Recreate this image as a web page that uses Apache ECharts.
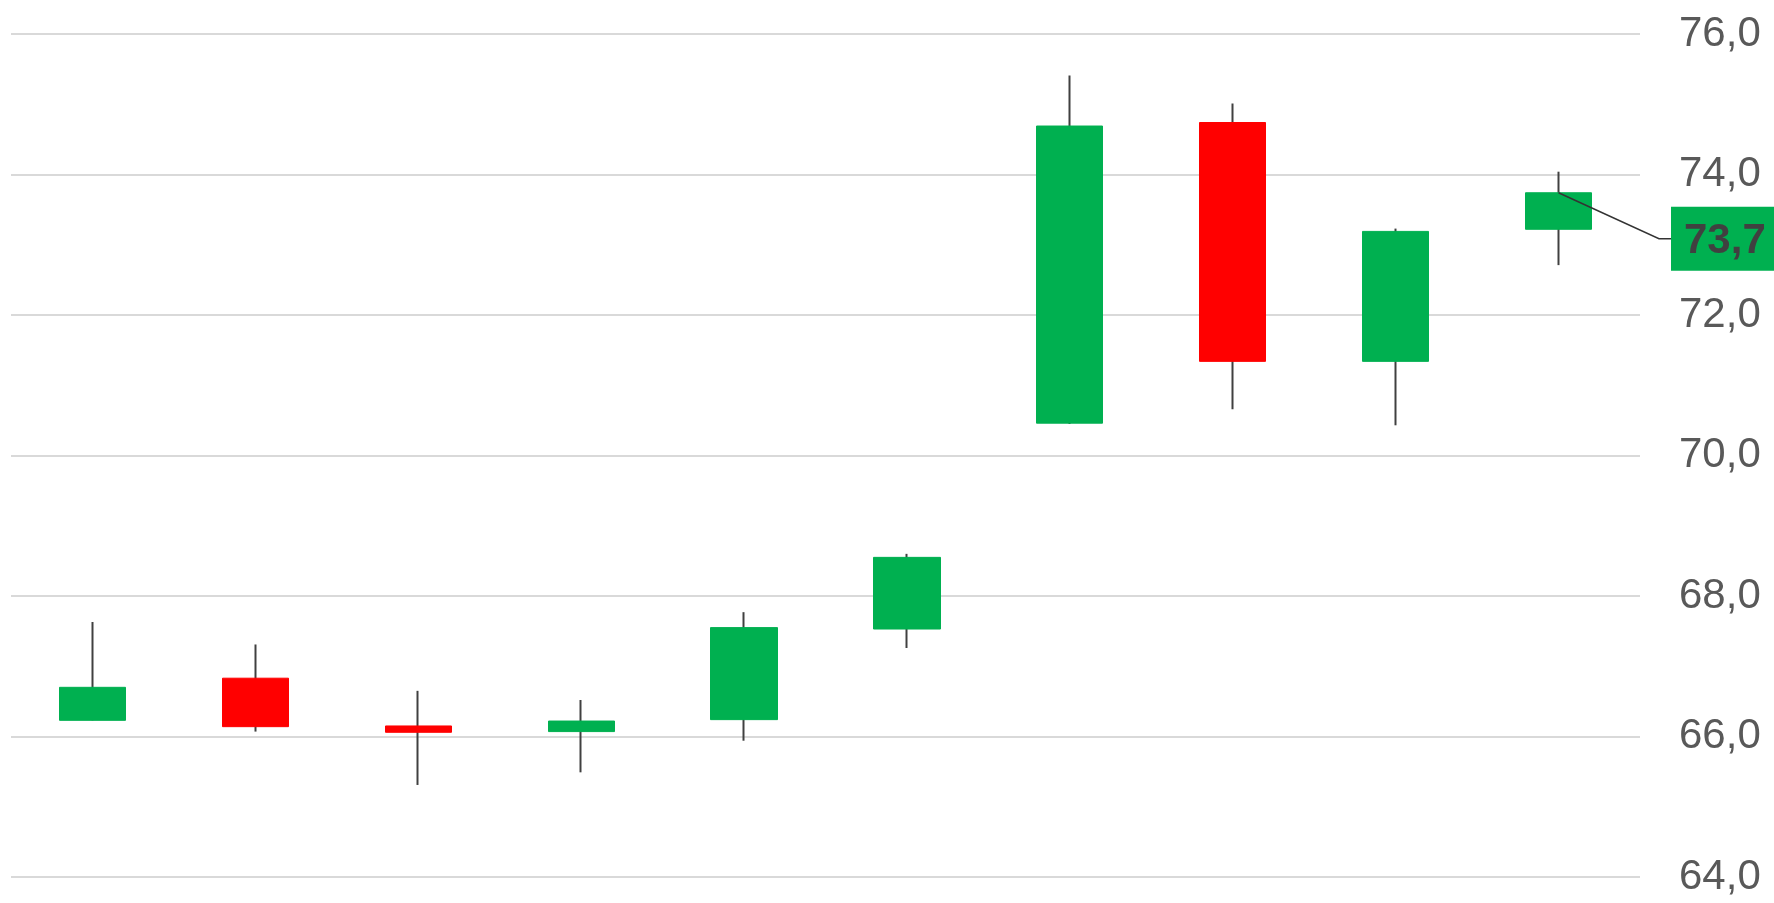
<!DOCTYPE html>
<html>
<head>
<meta charset="utf-8">
<script src="https://cdn.jsdelivr.net/npm/echarts@6/dist/echarts.min.js"></script>
<style>
  html, body { margin: 0; padding: 0; background: #fff; }
  #chart { width: 1774px; height: 903px; }
</style>
</head>
<body>
<div id="chart"></div>
<script>
const categories = ["1", "2", "3", "4", "5", "6", "7", "8", "9", "10"];
const openValues = [66.23, 66.83, 66.15, 66.07, 66.24, 67.53, 70.46, 74.74, 71.34, 73.22];
const closeValues = [66.70, 66.14, 66.06, 66.22, 67.55, 68.55, 74.69, 71.34, 73.19, 73.74];
const lowValues = [66.23, 66.07, 65.31, 65.49, 65.94, 67.26, 70.45, 70.66, 70.43, 72.71];
const highValues = [67.63, 67.31, 66.65, 66.52, 67.77, 68.60, 75.41, 75.01, 73.23, 74.04];

const upColor = "#00b050";
const downColor = "#ff0000";
const wickColor = "#404040";

const fmt = (v) => v.toFixed(1).replace(".", ",");

// wicks: full range, dark
const wickData = categories.map((c, i) => [openValues[i], closeValues[i], lowValues[i], highValues[i]]);
// bodies: open/close only, so no coloured wick is drawn on top
const bodyData = categories.map((c, i) => [
  openValues[i],
  closeValues[i],
  Math.min(openValues[i], closeValues[i]),
  Math.max(openValues[i], closeValues[i]),
]);
const last = categories.length - 1;

const chart = echarts.init(document.getElementById("chart"));
const option = {
  animation: false,
  backgroundColor: "#fff",
  grid: {
    left: 11,
    right: 134,
    top: 34,
    bottom: 26,
  },
  xAxis: {
    type: "category",
    data: categories,
    boundaryGap: true,
    axisLine: { show: false },
    axisTick: { show: false },
    axisLabel: { show: false },
    splitLine: { show: false },
  },
  yAxis: {
    type: "value",
    position: "right",
    min: 64,
    max: 76,
    interval: 2,
    axisLine: { show: false },
    axisTick: { show: false },
    axisLabel: {
      margin: 39,
      fontSize: 42,
      color: "#595959",
      fontFamily: "Liberation Sans",
      formatter: fmt,
    },
    splitLine: {
      lineStyle: { color: "#d9d9d9", width: 2 },
    },
  },
  series: [
    {
      name: "wick",
      type: "candlestick",
      data: wickData,
      barWidth: 1,
      itemStyle: {
        color: wickColor,
        color0: wickColor,
        borderColor: wickColor,
        borderColor0: wickColor,
        borderWidth: 2,
      },
      z: 2,
    },
    {
      name: "body",
      type: "candlestick",
      data: bodyData,
      barWidth: "41%",
      itemStyle: {
        color: upColor,
        color0: downColor,
        borderColor: upColor,
        borderColor0: downColor,
        borderWidth: 1,
      },
      z: 3,
    },
    {
      name: "last",
      type: "custom",
      data: [[last, closeValues[last]]],
      encode: { x: 0, y: 1 },
      z: 5,
      renderItem(params, api) {
        const p = api.coord([api.value(0), api.value(1)]);
        const right = params.coordSys.x + params.coordSys.width;
        const ly = p[1] + 46;
        return {
          type: "group",
          children: [
            {
              type: "polyline",
              shape: { points: [p, [right + 19, ly], [right + 31, ly]] },
              style: { stroke: "#333", lineWidth: 1.5, fill: null },
            },
            {
              type: "rect",
              shape: { x: right + 31, y: ly - 32, width: 140, height: 64 },
              style: { fill: upColor },
            },
            {
              type: "text",
              style: {
                text: fmt(api.value(1)),
                x: right + 44,
                y: ly + 3,
                verticalAlign: "middle",
                font: 'bold 42px "Liberation Sans"',
                fill: "#404040",
              },
            },
          ],
        };
      },
    },
  ],
};
chart.setOption(option);
</script>
</body>
</html>
